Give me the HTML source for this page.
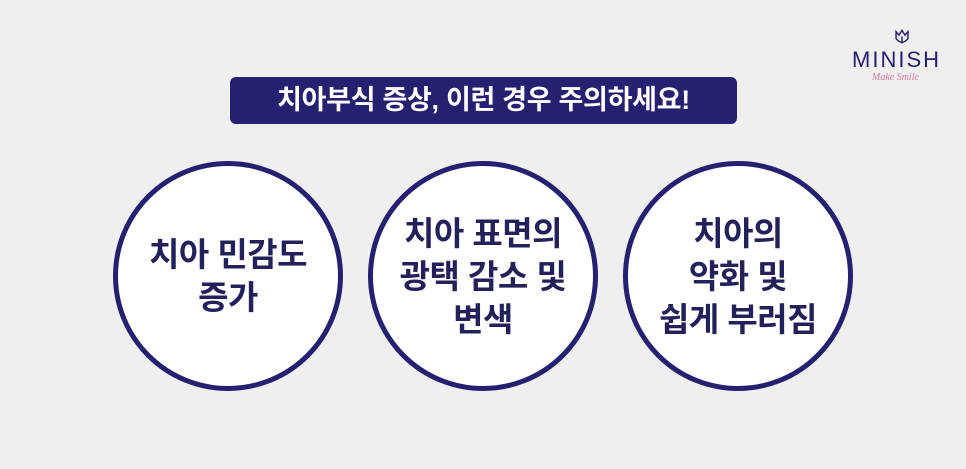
<!DOCTYPE html>
<html><head><meta charset="utf-8"><style>
body{margin:0;width:966px;height:469px;background:#efefef;position:relative;overflow:hidden;font-family:"Liberation Sans","Noto Sans CJK KR",sans-serif;}
.banner{position:absolute;left:230px;top:77px;width:507px;height:47px;background:#25206f;border-radius:6px;color:#fff;font-weight:bold;font-size:27px;line-height:47px;text-align:center;letter-spacing:-0.3px}
.c{position:absolute;width:220px;height:220px;border:5px solid #25206f;border-radius:50%;background:#fff;display:flex;align-items:center;justify-content:center;text-align:center;font-weight:bold;font-size:33px;line-height:43px;color:#23205a;letter-spacing:-0.5px}
.logo{position:absolute;left:852px;top:47px;font-size:22px;letter-spacing:2px;color:#25206f}
.sub{position:absolute;left:872px;top:72px;font-size:10px;font-style:italic;color:#e07a98;font-family:"Liberation Serif",serif}
</style></head><body>
<div class="banner">치아부식 증상, 이런 경우 주의하세요!</div>
<div class="c" style="left:113px;top:161px">치아 민감도<br>증가</div>
<div class="c" style="left:368px;top:161px">치아 표면의<br>광택 감소 및<br>변색</div>
<div class="c" style="left:623px;top:161px">치아의<br>약화 및<br>쉽게 부러짐</div>
<svg style="position:absolute;left:892px;top:28px" width="20" height="19" viewBox="0 0 16 16" fill="none" stroke="#25206f" stroke-width="1.2"><path d="M3 3 L5.5 6 L8 2 L10.5 6 L13 3 L13 9 Q8 15 3 9 Z"/><path d="M8 7 L8 13"/></svg>
<div class="logo">MINISH</div>
<div class="sub">Make Smile</div>
</body></html>
